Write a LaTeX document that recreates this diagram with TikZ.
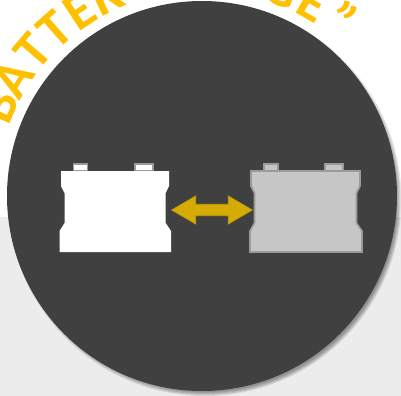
\documentclass[tikz,border=0pt]{standalone}
\usepackage{fontspec}
\setmainfont{Carlito}

\begin{document}
\begin{tikzpicture}[x=0.75pt,y=-0.75pt,
    letter/.style={anchor=base,inner sep=0pt,text=amber,
        font=\fontsize{40pt}{40pt}\selectfont\bfseries},
    dial/.style={fill=dial},
    halo/.style={fill=black,opacity=0.09},
    case/.style={line width=1.2pt,line join=miter},
    post/.style={line width=1.2pt}
]
    \definecolor{dial}{HTML}{404040}
    \definecolor{floor}{HTML}{ECECEC}
    \definecolor{link}{HTML}{D5AB05}
    \definecolor{linkedge}{HTML}{C49E08}
    \definecolor{spare}{HTML}{C6C6C6}
    \definecolor{spareedge}{HTML}{9A9A9A}
    \definecolor{amber}{HTML}{FFC000}
    \useasboundingbox (0,0) rectangle (401,396);
    \clip (0,0) rectangle (401,396);

    \fill[floor] (0,217) rectangle (401,396);

    \foreach \pos/\ang/\glyph in {
        1/156/B,2/148/A,3/139.5/T,4/131.5/T,5/123.5/E,6/115.5/R,7/106.5/Y,
        8/69/G,9/60/E,10/52/"} {
        \node[letter,rotate=\ang-90] (letter-\pos)
            at ({202+205*cos(\ang)},{196-205*sin(\ang)}) {\glyph};
    }

    % soft edge at the lower right
    \foreach \grow in {0,1,2,3,4} {
        \fill[halo] (205,199.5) circle (192.5+\grow);
    }
    \fill[dial] (202,196) circle (195);

    % left one
    \draw[post,draw=spareedge,fill=white] (73.5,164) rectangle (87.5,171);
    \draw[post,draw=spareedge,fill=white] (135,164) rectangle (153,171);
    \fill[white] (61,171) -- (61,186) -- (64.5,193) -- (64.5,223) -- (59.5,231)
        -- (59.5,252) -- (171,252) -- (171,231) -- (165.7,223) -- (165.7,193)
        -- (169,186) -- (169,171) -- cycle;

    % right one
    \draw[post,draw=spareedge,fill=spare] (264,164) rectangle (278,171);
    \draw[post,draw=spareedge,fill=spare] (325,164) rectangle (343,171);
    \draw[case,draw=spareedge,fill=spare] (251,171) -- (251,186) -- (254.5,193)
        -- (254.5,223) -- (250,231) -- (250,252) -- (362,252) -- (362,231)
        -- (356.5,223) -- (356.5,193) -- (360,186) -- (360,171) -- cycle;

    % swap between them
    \draw[draw=linkedge,fill=link,line width=0.5pt] (171.7,210) -- (195.7,196)
        -- (195.7,204.3) -- (228.3,204.3) -- (228.3,196) -- (252.3,210)
        -- (228.3,224) -- (228.3,215.7) -- (195.7,215.7) -- (195.7,224) -- cycle;
\end{tikzpicture}
\end{document}
